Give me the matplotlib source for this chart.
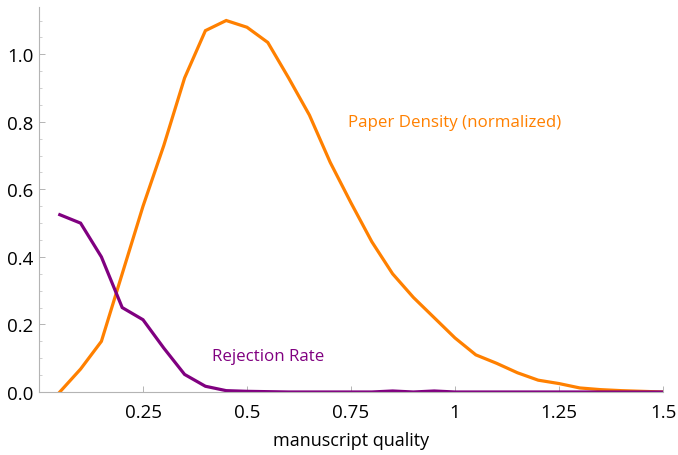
import matplotlib
matplotlib.use('Agg')
import matplotlib.pyplot as plt
from matplotlib.ticker import MultipleLocator, FixedLocator

# data
quality = [0.05, 0.10, 0.15, 0.20, 0.25, 0.30, 0.35, 0.40, 0.45, 0.50,
           0.55, 0.60, 0.65, 0.70, 0.75, 0.80, 0.85, 0.90, 0.95, 1.00,
           1.05, 1.10, 1.15, 1.20, 1.25, 1.30, 1.35, 1.40, 1.45, 1.50]
paper_density = [0.0, 0.068, 0.15, 0.35, 0.55, 0.73, 0.93, 1.07, 1.10, 1.08,
                 1.035, 0.93, 0.82, 0.68, 0.56, 0.445, 0.35, 0.28, 0.22, 0.16,
                 0.11, 0.085, 0.057, 0.035, 0.025, 0.012, 0.007, 0.004, 0.002, 0.0]
rejection_rate = [0.525, 0.50, 0.40, 0.25, 0.214, 0.13, 0.052, 0.017, 0.004, 0.002,
                  0.001, 0.0, 0.0, 0.0, 0.0, 0.0, 0.003, 0.0, 0.003, 0.0,
                  0.0, 0.0, 0.0, 0.0, 0.0, 0.0, 0.0, 0.0, 0.0, 0.0]
x_ticks = [0.25, 0.5, 0.75, 1.0, 1.25, 1.5]
x_tick_labels = ['0.25', '0.5', '0.75', '1', '1.25', '1.5']
y_ticks = [0.0, 0.2, 0.4, 0.6, 0.8, 1.0]

orange = '#FF8000'
purple = '#800080'

plt.rcParams['font.family'] = ['Open Sans', 'DejaVu Sans']

fig = plt.figure(figsize=(6.78, 4.56), dpi=100)
ax = fig.add_axes([39 / 678, 1 - 393 / 456, 624 / 678, 385 / 456])

ax.plot(quality, paper_density, color=orange, lw=2.3, solid_joinstyle='miter')
ax.plot(quality, rejection_rate, color=purple, lw=2.3, solid_joinstyle='miter')

ax.set_xlim(0, 1.5)
ax.set_ylim(0, 1.14)

for s in ['top', 'right']:
    ax.spines[s].set_visible(False)
for s in ['left', 'bottom']:
    ax.spines[s].set_color('#b4b4b4')
    ax.spines[s].set_linewidth(0.8)

ax.xaxis.set_major_locator(FixedLocator(x_ticks))
ax.set_xticklabels(x_tick_labels)
ax.yaxis.set_major_locator(FixedLocator(y_ticks))
ax.set_yticklabels([f'{v:.1f}' for v in y_ticks])
ax.yaxis.set_minor_locator(MultipleLocator(0.05))

ax.tick_params(axis='both', which='major', direction='in', length=4,
               width=0.7, color='#b4b4b4', labelsize=13.5)
ax.tick_params(axis='y', which='minor', direction='in', length=2.5,
               width=0.6, color='#c8c8c8')
ax.tick_params(axis='x', pad=8)
ax.tick_params(axis='y', pad=4)

ax.set_xlabel('manuscript quality', fontsize=13, labelpad=7)

ax.text(0.743, 0.8, 'Paper Density (normalized)', color=orange,
        fontsize=12.2, va='center', ha='left')
ax.text(0.416, 0.107, 'Rejection Rate', color=purple,
        fontsize=12.2, va='center', ha='left')

fig.savefig('out.png', dpi=100)
